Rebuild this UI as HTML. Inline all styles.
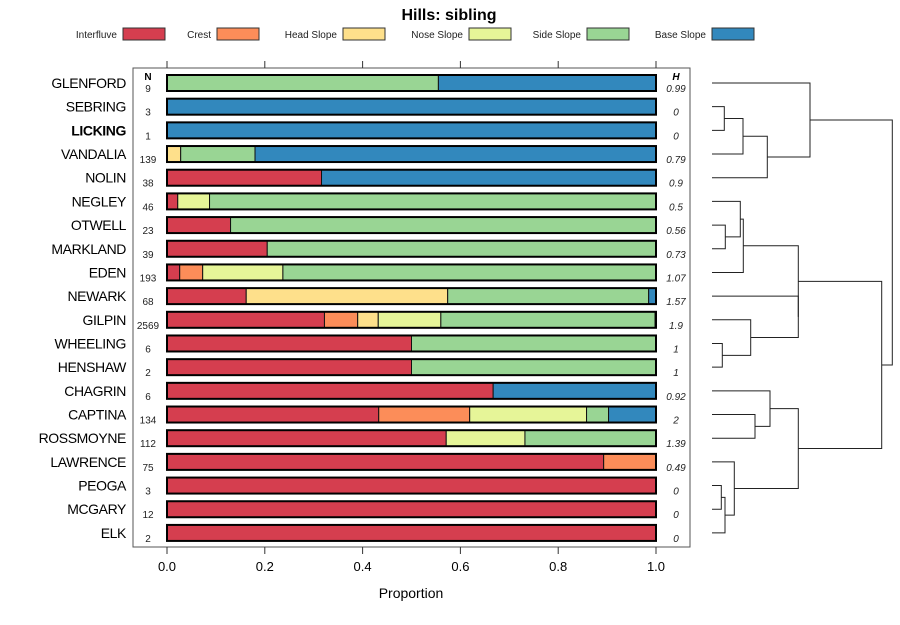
<!DOCTYPE html>
<html><head><meta charset="utf-8"><style>
body{margin:0;background:#fff;}
svg text{font-family:"Liberation Sans",sans-serif;}
</style></head><body>
<svg id="chart" width="900" height="620" xmlns="http://www.w3.org/2000/svg">
<rect width="900" height="620" fill="#fff"/>
<text x="449" y="20" text-anchor="middle" font-size="16" font-weight="bold">Hills: sibling</text>
<g id="legend"></g>
<rect x="133" y="68" width="557" height="479" fill="none" stroke="#555" stroke-width="1"/>
<g id="bars"></g>
<g id="axis"></g>
<text x="411" y="598" text-anchor="middle" font-size="14">Proportion</text>
<g id="dendro" stroke="#222" stroke-width="1" fill="none"></g>
</svg>
<script>
const categories=["GLENFORD","SEBRING","LICKING","VANDALIA","NOLIN","NEGLEY","OTWELL","MARKLAND","EDEN","NEWARK","GILPIN","WHEELING","HENSHAW","CHAGRIN","CAPTINA","ROSSMOYNE","LAWRENCE","PEOGA","MCGARY","ELK"];
const seriesNames=["Interfluve","Crest","Head Slope","Nose Slope","Side Slope","Base Slope"];
const interfluve=[0,0,0,0,0.316,0.022,0.13,0.205,0.026,0.162,0.322,0.5,0.5,0.667,0.433,0.571,0.893,1,1,1];
const crest=[0,0,0,0,0,0,0,0,0.047,0,0.068,0,0,0,0.186,0,0.107,0,0,0];
const headSlope=[0,0,0,0.028,0,0,0,0,0,0.412,0.042,0,0,0,0,0,0,0,0,0];
const noseSlope=[0,0,0,0,0,0.065,0,0,0.164,0,0.128,0,0,0,0.239,0.161,0,0,0,0];
const sideSlope=[0.555,0,0,0.152,0,0.913,0.87,0.795,0.763,0.411,0.438,0.5,0.5,0,0.045,0.268,0,0,0,0];
const baseSlope=[0.445,1,1,0.82,0.684,0,0,0,0,0.015,0.002,0,0,0.333,0.097,0,0,0,0,0];
const nValues=["9","3","1","139","38","46","23","39","193","68","2569","6","2","6","134","112","75","3","12","2"];
const hValues=["0.99","0","0","0.79","0.9","0.5","0.56","0.73","1.07","1.57","1.9","1","1","0.92","2","1.39","0.49","0","0","0"];
const xTicks=[0,0.2,0.4,0.6,0.8,1.0];
const xTickLabels=["0.0","0.2","0.4","0.6","0.8","1.0"];
const colors=["#D53E4F","#FC8D59","#FEE08B","#E6F598","#99D594","#3288BD"];
const series=[interfluve,crest,headSlope,noseSlope,sideSlope,baseSlope];
const NS="http://www.w3.org/2000/svg";
function xs(v){return 167+v*489;}
function ys(i){return 83+i*23.68;}
function mk(tag,attrs,parent){const e=document.createElementNS(NS,tag);for(const k in attrs)e.setAttribute(k,attrs[k]);parent.appendChild(e);return e;}
const leg=document.getElementById('legend');
const legBox=[123,217,343,469,587,712];
seriesNames.forEach((n,i)=>{
 const t=mk('text',{x:legBox[i]-6,y:38,'text-anchor':'end','font-size':'10',fill:'#222'},leg);t.textContent=n;
 
 
 const r=mk('rect',{x:legBox[i],y:28,width:42,height:12,fill:colors[i],stroke:'#333','stroke-width':1},leg);
 
 
});
const bars=document.getElementById('bars');
categories.forEach((c,i)=>{
 const y=ys(i);
 const lab=mk('text',{x:126,y:y+5,'text-anchor':'end','font-size':'14','letter-spacing':'-0.4','font-weight':c==="LICKING"?'bold':'normal'},bars);lab.textContent=c;
 
 
 let cum=0;
 series.forEach((s,k)=>{
  const v=s[i]; if(v<=0)return;
  const r=mk('rect',{x:xs(cum),y:y-8,width:v*489,height:16,fill:colors[k],stroke:'#111','stroke-width':1},bars);
  
  
  cum+=v;
 });
 const o=mk('rect',{x:xs(0),y:y-8,width:489,height:16,fill:'none',stroke:'#000','stroke-width':2},bars);
 
 
 const n=mk('text',{x:148,y:y+9,'text-anchor':'middle','font-size':'10',fill:'#222'},bars);n.textContent=nValues[i];
 
 
 const h=mk('text',{x:676,y:y+9,'text-anchor':'middle','font-size':'10','font-style':'italic',fill:'#222'},bars);h.textContent=hValues[i];
 
 
});
const nh=mk('text',{x:148,y:80,'text-anchor':'middle','font-size':'10','font-weight':'bold'},bars);nh.textContent="N";


const hh=mk('text',{x:676,y:80,'text-anchor':'middle','font-size':'10','font-weight':'bold','font-style':'italic'},bars);hh.textContent="H";


const ax=document.getElementById('axis');
xTicks.forEach((t,i)=>{
 mk('line',{x1:xs(t),x2:xs(t),y1:547,y2:554,stroke:'#333'},ax);
 mk('line',{x1:xs(t),x2:xs(t),y1:61,y2:68,stroke:'#333'},ax);
 const l=mk('text',{x:xs(t),y:571,'text-anchor':'middle','font-size':'13'},ax);l.textContent=xTickLabels[i];
 
 
});
const D=document.getElementById('dendro');
function node(xl,yl,xr,yr,xn){
 mk('path',{d:`M${xl},${yl}H${xn}V${yr}H${xr}`},D);
}
const L=712;
node(L,ys(1),L,ys(2),724.3); let a=(ys(1)+ys(2))/2;
node(724.3,a,L,ys(3),743); let b=(a+ys(3))/2;
node(743,b,L,ys(4),767.3); let c=(b+ys(4))/2;
node(L,ys(0),767.3,c,810); let top1=(ys(0)+c)/2;
node(L,ys(6),L,ys(7),725.3); let d=(ys(6)+ys(7))/2;
node(L,ys(5),725.3,d,740.3); let e=(ys(5)+d)/2;
node(740.3,e,L,ys(8),743.3); let f=(e+ys(8))/2;
node(L,ys(11),L,ys(12),722.3); let g=(ys(11)+ys(12))/2;
node(L,ys(10),722.3,g,750.7); let h2=(ys(10)+g)/2;
node(L,ys(9),750.7,h2,798.3); let i2=(ys(9)+h2)/2;
node(743.3,f,798.3,i2,798.3); let j=(f+i2)/2;
node(L,ys(14),L,ys(15),755); let k=(ys(14)+ys(15))/2;
node(L,ys(13),755,k,770); let l2=(ys(13)+k)/2;
node(L,ys(17),L,ys(18),721.3); let m=(ys(17)+ys(18))/2;
node(721.3,m,L,ys(19),725); let n2=(m+ys(19))/2;
node(L,ys(16),725,n2,734.3); let o2=(ys(16)+n2)/2;
node(770,l2,734.3,o2,798.3); let p=(l2+o2)/2;
node(798.3,j,798.3,p,881.7); let q=(j+p)/2;
node(810,top1,881.7,q,892.3);
</script>
</body></html>
